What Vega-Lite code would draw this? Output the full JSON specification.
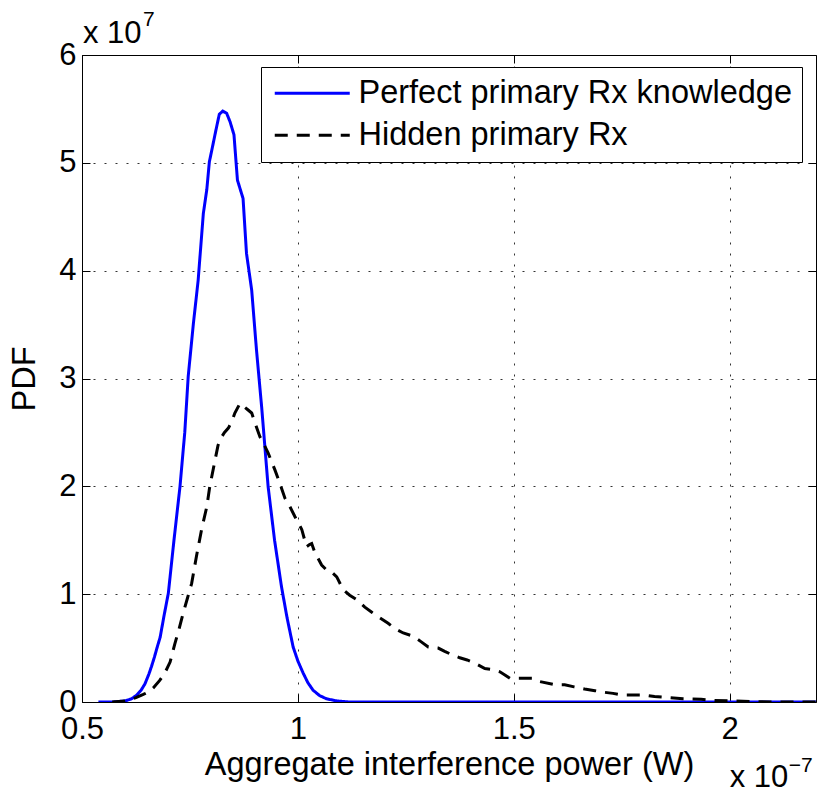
{
  "$schema": "https://vega.github.io/schema/vega-lite/v6.json",
  "autosize": {"type": "none"},
  "padding": {"left": 82, "top": 55, "right": 3, "bottom": 92},
  "width": 734,
  "height": 647,
  "background": "white",
  "config": {
    "font": "Liberation Sans",
    "view": {"stroke": null},
    "axis": {"labelFont": "Liberation Sans", "titleFont": "Liberation Sans", "labelColor": "black", "titleColor": "black", "labelFontSize": 31, "titleFontSize": 32.5, "titleFontWeight": "normal", "domainColor": "black", "tickColor": "black", "domainWidth": 1, "tickWidth": 1, "tickSize": -8}
  },
  "datasets": {
    "curves": [
      {"x": 0.538, "y": 0, "series": "Perfect primary Rx knowledge"},
      {"x": 0.57, "y": 0, "series": "Perfect primary Rx knowledge"},
      {"x": 0.6, "y": 0.01, "series": "Perfect primary Rx knowledge"},
      {"x": 0.615, "y": 0.03, "series": "Perfect primary Rx knowledge"},
      {"x": 0.627, "y": 0.065, "series": "Perfect primary Rx knowledge"},
      {"x": 0.637, "y": 0.11, "series": "Perfect primary Rx knowledge"},
      {"x": 0.646, "y": 0.17, "series": "Perfect primary Rx knowledge"},
      {"x": 0.655, "y": 0.26, "series": "Perfect primary Rx knowledge"},
      {"x": 0.661, "y": 0.33, "series": "Perfect primary Rx knowledge"},
      {"x": 0.668, "y": 0.42, "series": "Perfect primary Rx knowledge"},
      {"x": 0.675, "y": 0.52, "series": "Perfect primary Rx knowledge"},
      {"x": 0.681, "y": 0.6, "series": "Perfect primary Rx knowledge"},
      {"x": 0.69, "y": 0.8, "series": "Perfect primary Rx knowledge"},
      {"x": 0.7, "y": 1.01, "series": "Perfect primary Rx knowledge"},
      {"x": 0.713, "y": 1.5, "series": "Perfect primary Rx knowledge"},
      {"x": 0.727, "y": 2.0, "series": "Perfect primary Rx knowledge"},
      {"x": 0.738, "y": 2.5, "series": "Perfect primary Rx knowledge"},
      {"x": 0.746, "y": 3.02, "series": "Perfect primary Rx knowledge"},
      {"x": 0.758, "y": 3.51, "series": "Perfect primary Rx knowledge"},
      {"x": 0.769, "y": 3.91, "series": "Perfect primary Rx knowledge"},
      {"x": 0.781, "y": 4.53, "series": "Perfect primary Rx knowledge"},
      {"x": 0.789, "y": 4.75, "series": "Perfect primary Rx knowledge"},
      {"x": 0.795, "y": 5.01, "series": "Perfect primary Rx knowledge"},
      {"x": 0.8, "y": 5.105, "series": "Perfect primary Rx knowledge"},
      {"x": 0.81, "y": 5.3, "series": "Perfect primary Rx knowledge"},
      {"x": 0.818, "y": 5.45, "series": "Perfect primary Rx knowledge"},
      {"x": 0.826, "y": 5.48, "series": "Perfect primary Rx knowledge"},
      {"x": 0.835, "y": 5.46, "series": "Perfect primary Rx knowledge"},
      {"x": 0.843, "y": 5.38, "series": "Perfect primary Rx knowledge"},
      {"x": 0.852, "y": 5.26, "series": "Perfect primary Rx knowledge"},
      {"x": 0.86, "y": 4.84, "series": "Perfect primary Rx knowledge"},
      {"x": 0.873, "y": 4.67, "series": "Perfect primary Rx knowledge"},
      {"x": 0.881, "y": 4.16, "series": "Perfect primary Rx knowledge"},
      {"x": 0.893, "y": 3.82, "series": "Perfect primary Rx knowledge"},
      {"x": 0.904, "y": 3.27, "series": "Perfect primary Rx knowledge"},
      {"x": 0.916, "y": 2.74, "series": "Perfect primary Rx knowledge"},
      {"x": 0.931, "y": 2.0, "series": "Perfect primary Rx knowledge"},
      {"x": 0.946, "y": 1.5, "series": "Perfect primary Rx knowledge"},
      {"x": 0.962, "y": 1.07, "series": "Perfect primary Rx knowledge"},
      {"x": 0.975, "y": 0.78, "series": "Perfect primary Rx knowledge"},
      {"x": 0.989, "y": 0.51, "series": "Perfect primary Rx knowledge"},
      {"x": 1.0, "y": 0.38, "series": "Perfect primary Rx knowledge"},
      {"x": 1.012, "y": 0.27, "series": "Perfect primary Rx knowledge"},
      {"x": 1.023, "y": 0.18, "series": "Perfect primary Rx knowledge"},
      {"x": 1.035, "y": 0.11, "series": "Perfect primary Rx knowledge"},
      {"x": 1.05, "y": 0.06, "series": "Perfect primary Rx knowledge"},
      {"x": 1.066, "y": 0.03, "series": "Perfect primary Rx knowledge"},
      {"x": 1.09, "y": 0.01, "series": "Perfect primary Rx knowledge"},
      {"x": 1.12, "y": 0, "series": "Perfect primary Rx knowledge"},
      {"x": 2.2, "y": 0, "series": "Perfect primary Rx knowledge"},
      {"x": 0.57, "y": 0, "series": "Hidden primary Rx"},
      {"x": 0.6, "y": 0.01, "series": "Hidden primary Rx"},
      {"x": 0.625, "y": 0.04, "series": "Hidden primary Rx"},
      {"x": 0.642, "y": 0.07, "series": "Hidden primary Rx"},
      {"x": 0.657, "y": 0.1, "series": "Hidden primary Rx"},
      {"x": 0.665, "y": 0.13, "series": "Hidden primary Rx"},
      {"x": 0.68, "y": 0.2, "series": "Hidden primary Rx"},
      {"x": 0.692, "y": 0.27, "series": "Hidden primary Rx"},
      {"x": 0.704, "y": 0.37, "series": "Hidden primary Rx"},
      {"x": 0.715, "y": 0.54, "series": "Hidden primary Rx"},
      {"x": 0.725, "y": 0.68, "series": "Hidden primary Rx"},
      {"x": 0.734, "y": 0.82, "series": "Hidden primary Rx"},
      {"x": 0.744, "y": 0.96, "series": "Hidden primary Rx"},
      {"x": 0.754, "y": 1.1, "series": "Hidden primary Rx"},
      {"x": 0.765, "y": 1.35, "series": "Hidden primary Rx"},
      {"x": 0.777, "y": 1.6, "series": "Hidden primary Rx"},
      {"x": 0.789, "y": 1.81, "series": "Hidden primary Rx"},
      {"x": 0.796, "y": 2.0, "series": "Hidden primary Rx"},
      {"x": 0.808, "y": 2.24, "series": "Hidden primary Rx"},
      {"x": 0.815, "y": 2.38, "series": "Hidden primary Rx"},
      {"x": 0.822, "y": 2.45, "series": "Hidden primary Rx"},
      {"x": 0.83, "y": 2.5, "series": "Hidden primary Rx"},
      {"x": 0.839, "y": 2.54, "series": "Hidden primary Rx"},
      {"x": 0.847, "y": 2.6, "series": "Hidden primary Rx"},
      {"x": 0.854, "y": 2.68, "series": "Hidden primary Rx"},
      {"x": 0.866, "y": 2.77, "series": "Hidden primary Rx"},
      {"x": 0.875, "y": 2.74, "series": "Hidden primary Rx"},
      {"x": 0.884, "y": 2.71, "series": "Hidden primary Rx"},
      {"x": 0.893, "y": 2.68, "series": "Hidden primary Rx"},
      {"x": 0.904, "y": 2.55, "series": "Hidden primary Rx"},
      {"x": 0.912, "y": 2.46, "series": "Hidden primary Rx"},
      {"x": 0.92, "y": 2.4, "series": "Hidden primary Rx"},
      {"x": 0.931, "y": 2.31, "series": "Hidden primary Rx"},
      {"x": 0.947, "y": 2.15, "series": "Hidden primary Rx"},
      {"x": 0.958, "y": 2.03, "series": "Hidden primary Rx"},
      {"x": 0.97, "y": 1.89, "series": "Hidden primary Rx"},
      {"x": 0.978, "y": 1.84, "series": "Hidden primary Rx"},
      {"x": 0.993, "y": 1.72, "series": "Hidden primary Rx"},
      {"x": 1.009, "y": 1.6, "series": "Hidden primary Rx"},
      {"x": 1.02, "y": 1.44, "series": "Hidden primary Rx"},
      {"x": 1.027, "y": 1.46, "series": "Hidden primary Rx"},
      {"x": 1.032, "y": 1.47, "series": "Hidden primary Rx"},
      {"x": 1.039, "y": 1.39, "series": "Hidden primary Rx"},
      {"x": 1.055, "y": 1.27, "series": "Hidden primary Rx"},
      {"x": 1.065, "y": 1.23, "series": "Hidden primary Rx"},
      {"x": 1.074, "y": 1.22, "series": "Hidden primary Rx"},
      {"x": 1.09, "y": 1.16, "series": "Hidden primary Rx"},
      {"x": 1.105, "y": 1.04, "series": "Hidden primary Rx"},
      {"x": 1.12, "y": 0.99, "series": "Hidden primary Rx"},
      {"x": 1.136, "y": 0.95, "series": "Hidden primary Rx"},
      {"x": 1.155, "y": 0.88, "series": "Hidden primary Rx"},
      {"x": 1.172, "y": 0.83, "series": "Hidden primary Rx"},
      {"x": 1.19, "y": 0.78, "series": "Hidden primary Rx"},
      {"x": 1.209, "y": 0.73, "series": "Hidden primary Rx"},
      {"x": 1.225, "y": 0.68, "series": "Hidden primary Rx"},
      {"x": 1.244, "y": 0.64, "series": "Hidden primary Rx"},
      {"x": 1.267, "y": 0.61, "series": "Hidden primary Rx"},
      {"x": 1.285, "y": 0.56, "series": "Hidden primary Rx"},
      {"x": 1.302, "y": 0.51, "series": "Hidden primary Rx"},
      {"x": 1.325, "y": 0.5, "series": "Hidden primary Rx"},
      {"x": 1.34, "y": 0.47, "series": "Hidden primary Rx"},
      {"x": 1.356, "y": 0.44, "series": "Hidden primary Rx"},
      {"x": 1.375, "y": 0.41, "series": "Hidden primary Rx"},
      {"x": 1.392, "y": 0.39, "series": "Hidden primary Rx"},
      {"x": 1.41, "y": 0.36, "series": "Hidden primary Rx"},
      {"x": 1.433, "y": 0.31, "series": "Hidden primary Rx"},
      {"x": 1.45, "y": 0.3, "series": "Hidden primary Rx"},
      {"x": 1.468, "y": 0.28, "series": "Hidden primary Rx"},
      {"x": 1.491, "y": 0.22, "series": "Hidden primary Rx"},
      {"x": 1.514, "y": 0.22, "series": "Hidden primary Rx"},
      {"x": 1.545, "y": 0.22, "series": "Hidden primary Rx"},
      {"x": 1.56, "y": 0.19, "series": "Hidden primary Rx"},
      {"x": 1.595, "y": 0.16, "series": "Hidden primary Rx"},
      {"x": 1.618, "y": 0.16, "series": "Hidden primary Rx"},
      {"x": 1.64, "y": 0.14, "series": "Hidden primary Rx"},
      {"x": 1.664, "y": 0.12, "series": "Hidden primary Rx"},
      {"x": 1.688, "y": 0.105, "series": "Hidden primary Rx"},
      {"x": 1.71, "y": 0.09, "series": "Hidden primary Rx"},
      {"x": 1.73, "y": 0.08, "series": "Hidden primary Rx"},
      {"x": 1.749, "y": 0.065, "series": "Hidden primary Rx"},
      {"x": 1.8, "y": 0.065, "series": "Hidden primary Rx"},
      {"x": 1.826, "y": 0.05, "series": "Hidden primary Rx"},
      {"x": 1.861, "y": 0.04, "series": "Hidden primary Rx"},
      {"x": 1.892, "y": 0.03, "series": "Hidden primary Rx"},
      {"x": 1.934, "y": 0.025, "series": "Hidden primary Rx"},
      {"x": 1.961, "y": 0.015, "series": "Hidden primary Rx"},
      {"x": 2.0, "y": 0.01, "series": "Hidden primary Rx"},
      {"x": 2.05, "y": 0.005, "series": "Hidden primary Rx"},
      {"x": 2.1, "y": 0, "series": "Hidden primary Rx"},
      {"x": 2.2, "y": 0, "series": "Hidden primary Rx"}
    ]
  },
  "data": {"name": "curves"},
  "resolve": {"axis": {"x": "independent", "y": "independent"}},
  "layer": [
    {
      "transform": [{"filter": "datum.series === 'Perfect primary Rx knowledge'"}],
      "mark": {"type": "line", "strokeWidth": 3, "clip": true},
      "encoding": {
        "x": {"field": "x", "type": "quantitative", "scale": {"domain": [0.5, 2.2], "nice": false, "zero": false},
          "axis": {"orient": "bottom", "title": "Aggregate interference power (W)", "values": [0.5, 1, 1.5, 2], "format": "~g", "labelFlush": false, "labelOverlap": false, "labelPadding": 20, "titlePadding": 4, "grid": true, "gridDash": [2, 9], "gridColor": "#333333", "gridWidth": 1}},
        "y": {"field": "y", "type": "quantitative", "scale": {"domain": [0, 6], "nice": false},
          "axis": {"orient": "left", "title": "PDF", "values": [0, 1, 2, 3, 4, 5, 6], "format": "d", "labelFlush": false, "labelOverlap": false, "labelPadding": 14, "titlePadding": 17, "grid": true, "gridDash": [2, 9], "gridColor": "#333333", "gridWidth": 1}},
        "color": {"field": "series", "type": "nominal",
          "scale": {"domain": ["Perfect primary Rx knowledge", "Hidden primary Rx"], "range": ["#0000ff", "#000000"]},
          "legend": {"title": null, "orient": "none", "legendX": 179, "legendY": 12, "strokeColor": "black", "fillColor": "white", "padding": 10, "labelFontSize": 32.5, "labelFont": "Liberation Sans", "labelColor": "black", "symbolType": "M-3,0H3", "symbolSize": 625, "symbolStrokeWidth": 3, "symbolOffset": 25, "labelOffset": 30, "rowPadding": 9, "labelLimit": 600}},
        "strokeDash": {"field": "series", "type": "nominal",
          "scale": {"domain": ["Perfect primary Rx knowledge", "Hidden primary Rx"], "range": [[1, 0], [13, 9]]},
          "legend": {"title": null}}
      }
    },
    {
      "transform": [{"filter": "datum.series === 'Hidden primary Rx'"}],
      "mark": {"type": "line", "strokeWidth": 3, "clip": true},
      "encoding": {
        "x": {"field": "x", "type": "quantitative", "axis": {"orient": "top", "title": null, "labels": false, "values": [0.5, 1, 1.5, 2], "grid": false}},
        "y": {"field": "y", "type": "quantitative", "axis": {"orient": "right", "title": null, "labels": false, "values": [0, 1, 2, 3, 4, 5, 6], "grid": false}},
        "color": {"field": "series", "type": "nominal"},
        "strokeDash": {"field": "series", "type": "nominal"}
      }
    },
    {
      "data": {"values": [{"t": "x 10", "x": 0.5, "y": 6}]},
      "mark": {"type": "text", "align": "left", "baseline": "alphabetic", "fontSize": 31, "font": "Liberation Sans", "color": "black", "dx": 1, "dy": -12},
      "encoding": {"x": {"field": "x", "type": "quantitative", "axis": null}, "y": {"field": "y", "type": "quantitative", "axis": null}, "text": {"field": "t"}}
    },
    {
      "data": {"values": [{"t": "7", "x": 0.5, "y": 6}]},
      "mark": {"type": "text", "align": "left", "baseline": "alphabetic", "fontSize": 21, "font": "Liberation Sans", "color": "black", "dx": 61, "dy": -29},
      "encoding": {"x": {"field": "x", "type": "quantitative", "axis": null}, "y": {"field": "y", "type": "quantitative", "axis": null}, "text": {"field": "t"}}
    },
    {
      "data": {"values": [{"t": "x 10", "x": 2.0, "y": 0}]},
      "mark": {"type": "text", "align": "left", "baseline": "alphabetic", "fontSize": 31, "font": "Liberation Sans", "color": "black", "dx": 0, "dy": 85},
      "encoding": {"x": {"field": "x", "type": "quantitative", "axis": null}, "y": {"field": "y", "type": "quantitative", "axis": null}, "text": {"field": "t"}}
    },
    {
      "data": {"values": [{"t": "−7", "x": 2.0, "y": 0}]},
      "mark": {"type": "text", "align": "left", "baseline": "alphabetic", "fontSize": 21, "font": "Liberation Sans", "color": "black", "dx": 59, "dy": 70},
      "encoding": {"x": {"field": "x", "type": "quantitative", "axis": null}, "y": {"field": "y", "type": "quantitative", "axis": null}, "text": {"field": "t"}}
    }
  ]
}
